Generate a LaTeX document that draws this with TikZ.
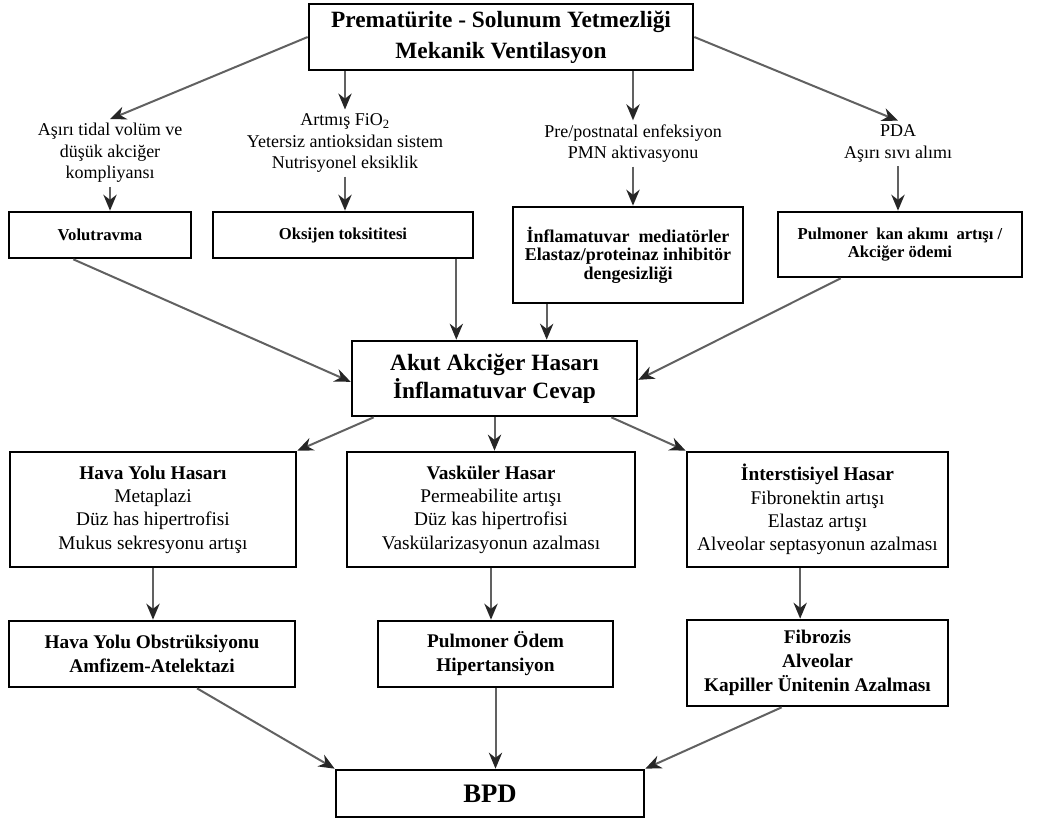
\documentclass[tikz,border=0pt]{standalone}
\usepackage{fontspec}
\setmainfont{Liberation Serif}
\usetikzlibrary{arrows.meta}
\tikzset{
	box/.style={draw=black, line width=2pt, fill=white, align=center, inner sep=0pt},
	lbl/.style={align=center, inner sep=3pt, font=\fontsize{13.5}{16}\selectfont},
	titlebox/.style={box, font=\fontsize{17.5}{23}\selectfont\bfseries},
	causebox/.style={box, font=\fontsize{12.5}{14}\selectfont\bfseries},
	dmgbox/.style={box, minimum height=86.25pt, font=\fontsize{14.5}{17.5}\selectfont},
	endbox/.style={box, font=\fontsize{14.5}{18}\selectfont\bfseries},
	arr/.style={draw=black!62, line width=1.5pt, -{Stealth[length=12pt,width=10pt,color=black!85]}},
}
\begin{document}
\begin{tikzpicture}[x=0.75pt,y=-0.75pt]
	\useasboundingbox (0,0) rectangle (1058,822);
	\node[titlebox, minimum width=288pt, minimum height=49.5pt] (top) at (501,37) {Prematürite - Solunum Yetmezliği\\Mekanik Ventilasyon};
	\node[lbl] (t1) at (110,153) {Aşırı tidal volüm ve\\düşük akciğer\\kompliyansı};
	\node[lbl] (t2) at (345,143) {Artmış FiO\textsubscript{2}\\Yetersiz antioksidan sistem\\Nutrisyonel eksiklik};
	\node[lbl] (t3) at (633,143.5) {Pre/postnatal enfeksiyon\\PMN aktivasyonu};
	\node[lbl] (t4) at (898,143.5) {PDA\\Aşırı sıvı alımı};
	\node[causebox, minimum width=136.5pt, minimum height=34.5pt] (volu) at (100,235) {Volutravma};
	\node[causebox, minimum width=195pt, minimum height=34.5pt] (oksi) at (343,235) {Oksijen toksititesi};
	\node[causebox, minimum width=172.5pt, minimum height=72pt, font=\fontsize{13.5}{14}\selectfont\bfseries] (infl) at (628,255) {İnflamatuvar\ \ mediatörler\\Elastaz/proteinaz inhibitör\\dengesizliği};
	\node[causebox, minimum width=183pt, minimum height=48.75pt] (pulm) at (900,244.5) {Pulmoner\ \ kan akımı\ \ artışı /\\Akciğer ödemi};
	\node[titlebox, minimum width=213.75pt, minimum height=56.25pt, font=\fontsize{17.5}{21}\selectfont\bfseries] (akut) at (494.5,378.5) {Akut Akciğer Hasarı\\İnflamatuvar Cevap};
	\node[dmgbox, minimum width=214.5pt] (hava) at (153,509.5) {\textbf{Hava Yolu Hasarı}\\Metaplazi\\Düz has hipertrofisi\\Mukus sekresyonu artışı};
	\node[dmgbox, minimum width=216pt] (vask) at (491,509.5) {\textbf{Vasküler Hasar}\\Permeabilite artışı\\Düz kas hipertrofisi\\Vaskülarizasyonun azalması};
	\node[dmgbox, minimum width=195.75pt] (inter) at (817.5,509.5) {\textbf{İnterstisiyel Hasar}\\Fibronektin artışı\\Elastaz artışı\\Alveolar septasyonun azalması};
	\node[endbox, minimum width=214.5pt, minimum height=49.5pt] (obst) at (152,654) {Hava Yolu Obstrüksiyonu\\Amfizem-Atelektazi};
	\node[endbox, minimum width=176.25pt, minimum height=49.5pt] (odem) at (495.5,654) {Pulmoner Ödem\\Hipertansiyon};
	\node[endbox, minimum width=195.75pt, minimum height=64.5pt] (fibr) at (817.5,663) {Fibrozis\\Alveolar\\Kapiller Ünitenin Azalması};
	\node[endbox, minimum width=231pt, minimum height=35.25pt, font=\fontsize{20}{24}\selectfont\bfseries] (bpd) at (490,793.5) {BPD};
	\draw[arr] (top.west) -- (t1.north);
	\draw[arr] (t2.north |- top.south) -- (t2.north);
	\draw[arr] (t3.north |- top.south) -- (t3.north);
	\draw[arr] (top.east) -- (t4.north);
	\draw[arr] (t1.south) -- (t1.south |- volu.north);
	\draw[arr] (t2.south) -- (t2.south |- oksi.north);
	\draw[arr] (t3.south) -- (t3.south |- infl.north);
	\draw[arr] (t4.south) -- (t4.south |- pulm.north);
	\draw[arr] ([xshift=-20pt]volu.south) -- ([yshift=-2.5pt]akut.west);
	\draw[arr] ([xshift=-13.5pt]oksi.south east) -- ([xshift=-13.5pt]oksi.south east |- akut.north);
	\draw[arr] ([xshift=26.25pt]infl.south west) -- ([xshift=26.25pt]infl.south west |- akut.north);
	\draw[arr] ([xshift=48pt]pulm.south west) -- ([yshift=-1pt]akut.east);
	\draw[arr] ([xshift=17.25pt]akut.south west) -- (hava.north east);
	\draw[arr] (akut.south) -- (akut.south |- vask.north);
	\draw[arr] ([xshift=-20.25pt]akut.south east) -- (inter.north west);
	\draw[arr] (hava.south) -- (hava.south |- obst.north);
	\draw[arr] (vask.south) -- (vask.south |- odem.north);
	\draw[arr] ([xshift=-13pt]inter.south) -- ([xshift=-13pt]inter.south |- fibr.north);
	\draw[arr] ([xshift=33.75pt]obst.south) -- (bpd.north west);
	\draw[arr] (odem.south) -- (odem.south |- bpd.north);
	\draw[arr] ([xshift=72pt]fibr.south west) -- (bpd.north east);
\end{tikzpicture}
\end{document}
